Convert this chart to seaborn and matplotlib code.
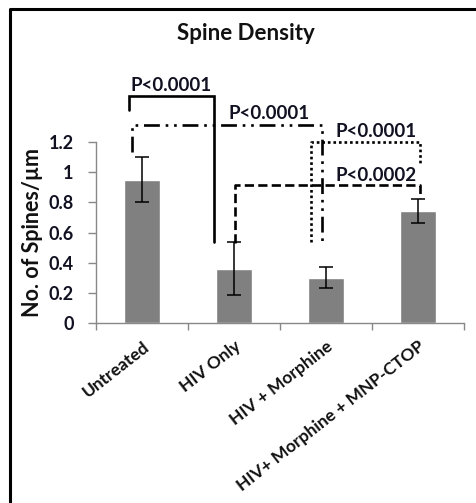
import matplotlib
matplotlib.use("Agg")
import matplotlib.pyplot as plt
import seaborn as sns
import pandas as pd
from matplotlib.lines import Line2D

# Spine density per treatment group (mean ± error)
groups = ["Untreated", "HIV Only", "HIV + Morphine", "HIV+ Morphine + MNP-CTOP"]
density = [0.95, 0.36, 0.30, 0.74]
density_err = [0.15, 0.175, 0.07, 0.08]

# Pairwise comparisons and their p-value labels
p_labels = ["P<0.0001", "P<0.0001", "P<0.0001", "P<0.0002"]

df = pd.DataFrame({"group": groups, "density": density, "err": density_err})

sns.set_theme(style="white")
plt.rcParams["font.family"] = ["Lato", "DejaVu Sans"]

fig = plt.figure(figsize=(4.76, 5.03), dpi=100)
ax = fig.add_axes([96 / 476, 1 - 323 / 503, (464 - 96) / 476, (323 - 142) / 503])

sns.barplot(data=df, x="group", y="density", color="#808080", saturation=1,
            width=0.39, errorbar=None, ax=ax)
ax.errorbar(range(len(groups)), df["density"], yerr=df["err"], fmt="none",
            ecolor="black", elinewidth=1.1, capsize=5, capthick=1.1)

ax.set_xlim(-0.5, 3.5)
ax.set_ylim(0, 1.2)
ax.set_yticks([0, 0.2, 0.4, 0.6, 0.8, 1.0, 1.2])
ax.set_yticklabels(["0", "0.2", "0.4", "0.6", "0.8", "1", "1.2"],
                   fontweight="bold", fontsize=13, color="#111122")
ax.set_xticks([-0.5, 0.5, 1.5, 2.5, 3.5], minor=False)
ax.set_xticklabels([])
ax.set_xticks(range(len(groups)), minor=True)
ax.set_xticklabels(groups, minor=True, rotation=38, ha="right", va="top",
                   rotation_mode="anchor", fontweight="bold", fontsize=12.5,
                   color="#111111")
ax.tick_params(axis="x", which="minor", length=0, pad=11)
ax.tick_params(axis="x", which="major", direction="out", length=5,
               width=1, color="#888888", bottom=True)
ax.tick_params(axis="y", direction="out", length=6, width=1,
               color="#888888", left=True, pad=10)
ax.set_xlabel("")
ax.set_ylabel("No. of Spines/µm", fontweight="bold", fontsize=15.5,
              labelpad=4, color="#111111")

for side in ["top", "right"]:
    ax.spines[side].set_visible(False)
for side in ["left", "bottom"]:
    ax.spines[side].set_color("#888888")
    ax.spines[side].set_linewidth(1)

# Significance brackets: (x_left, x_right, y_top, y_left_end, y_right_end)
brackets = [
    (-0.14, 0.78, 1.505, 1.412, 0.539),
    (-0.11, 1.96, 1.313, 1.134, 0.539),
    (1.84, 3.02, 1.20, 0.539, 1.061),
    (1.01, 3.02, 0.915, 0.53, 0.829),
]
bracket_styles = [
    "-",
    (0, (6, 2.2, 1, 2.2, 1, 2.2)),
    (0, (1, 1.1)),
    (0, (3.5, 1.6)),
]
label_pos = [(-0.13, 1.572), (0.935, 1.386), (2.10, 1.267), (2.10, 0.981)]

for (xl, xr, yt, yl, yr), ls, lab, (lx, ly) in zip(brackets, bracket_styles,
                                                    p_labels, label_pos):
    line = Line2D([xl, xl, xr, xr], [yl, yt, yt, yr], color="black",
                  linestyle=ls, linewidth=1.9, clip_on=False,
                  solid_joinstyle="miter", dash_capstyle="butt")
    ax.add_line(line)
    ax.text(lx, ly, lab, ha="left", va="center", fontsize=13.5,
            fontweight="bold", color="#111122", clip_on=False)

fig.text(246 / 476, 1 - 33 / 503, "Spine Density", ha="center", va="center",
         fontsize=16, fontweight="bold", color="#111111")

# Outer frame (top and left edges)
fig.add_artist(Line2D([9.5 / 476, 9.5 / 476, 1.0], [0.0, 1 - 9 / 503, 1 - 9 / 503],
                      transform=fig.transFigure, color="black", linewidth=2.2))

fig.savefig("out.png", dpi=100, facecolor="white")
